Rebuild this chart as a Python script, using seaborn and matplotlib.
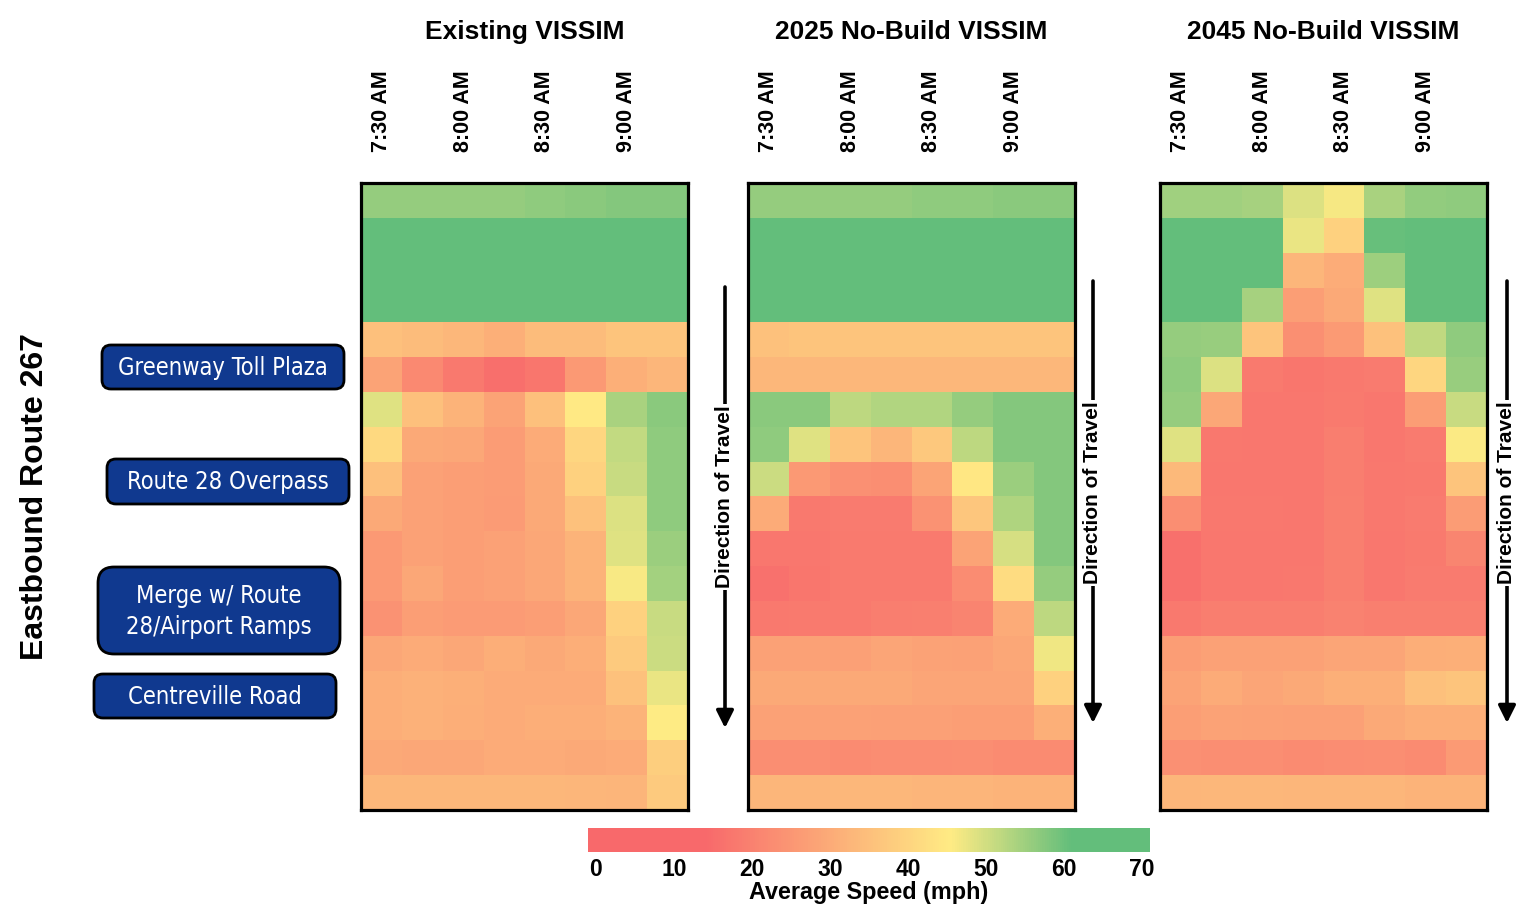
import numpy as np
import pandas as pd
import matplotlib
matplotlib.use("Agg")
import matplotlib.pyplot as plt
import seaborn as sns
from matplotlib.colors import LinearSegmentedColormap, Normalize
from matplotlib.patches import FancyBboxPatch
from matplotlib import font_manager

# ---- data -----------------------------------------------------------------
times = ["7:30 AM", "7:45 AM", "8:00 AM", "8:15 AM",
         "8:30 AM", "8:45 AM", "9:00 AM", "9:15 AM"]
segments = [f"S{i + 1:02d}" for i in range(18)]  # upstream (top) to downstream

existing = [
    [56, 56, 56, 56, 56.5, 57, 57.5, 57.5],
    [65, 65, 65, 65, 65, 65, 65, 65],
    [65, 65, 65, 65, 65, 65, 65, 65],
    [65, 65, 65, 65, 65, 65, 65, 65],
    [35, 34, 33, 31, 34, 34, 36, 36],
    [28, 22, 18, 15.5, 17, 25.5, 31, 32.5],
    [48.5, 35, 32, 28, 35, 45, 54, 57],
    [41, 29.5, 29, 26.5, 30, 40.5, 51.5, 56.5],
    [35, 27.5, 27, 26.5, 29.5, 39, 51, 56.5],
    [29.5, 27.5, 27, 26, 29.5, 35.5, 49, 56.5],
    [25.5, 27.5, 27, 27.5, 29, 32, 48.5, 55.5],
    [25.5, 29, 27, 27.5, 29, 32, 46, 54.5],
    [24, 27, 26, 26, 27, 29, 39, 51],
    [29, 30, 29, 30.5, 29.5, 30.5, 37.5, 50.5],
    [30.5, 31.5, 31, 30, 30, 30, 35.5, 47.5],
    [30.5, 31.5, 30.5, 30, 30.5, 30.5, 32, 45.5],
    [29.5, 29, 29, 30, 30, 29.5, 30, 38.5],
    [33, 33, 32.8, 32.8, 32.8, 32.6, 32.2, 37.5],
]

no_build_2025 = [
    [56, 56, 56, 56, 56.5, 56.5, 57, 57],
    [65, 65, 65, 65, 65, 65, 65, 65],
    [65, 65, 65, 65, 65, 65, 65, 65],
    [65, 65, 65, 65, 65, 65, 65, 65],
    [35.5, 36, 36, 36, 36, 36, 36, 36],
    [33, 33, 33, 33, 33, 33, 33, 33],
    [57, 57, 52, 53, 53, 56, 57.5, 57.5],
    [56.5, 48.5, 36, 32.5, 37, 52, 57.5, 57.5],
    [50.5, 25.5, 23.5, 23, 28.5, 44.5, 55.5, 57.5],
    [30, 18, 18.5, 18.5, 24, 36.5, 53.5, 57.5],
    [17.3, 17.3, 18.3, 18.3, 18.3, 28, 49.5, 57.5],
    [16, 17, 18.3, 18.3, 18.3, 22.5, 42, 56],
    [18, 18.3, 18.3, 19, 19.5, 20.5, 30, 52],
    [27.5, 27.5, 27.3, 28.8, 27.7, 27.5, 29, 47],
    [29.5, 29.5, 29.5, 29.5, 28.8, 28.8, 28.8, 39],
    [27.5, 27.5, 27.5, 27.3, 27.3, 27, 27, 31],
    [23, 23, 22.3, 22.7, 22.7, 23, 22.3, 22.3],
    [32.7, 32.7, 33, 33, 32.3, 32.3, 32, 32],
]

no_build_2045 = [
    [54.7, 54.7, 54.3, 49, 46.5, 54, 56.3, 56.6],
    [65, 64, 63, 47.5, 39, 60.5, 65, 65],
    [65, 65, 65, 32.5, 30.3, 55, 65, 65],
    [65, 65, 54.2, 27, 29.6, 48.5, 65, 65],
    [56, 55.7, 36, 23.4, 25.8, 35.3, 51.8, 56.6],
    [56.4, 49, 18.3, 17, 18, 18.5, 40.5, 55.8],
    [56, 29, 17.3, 17.3, 18.3, 17.3, 26.8, 51],
    [48.6, 17.7, 17.3, 17.3, 19, 17.3, 18.5, 45.7],
    [33.4, 17.3, 17.3, 17.3, 19, 17.7, 18, 36],
    [23, 17.7, 17.7, 17.3, 19.5, 17.7, 18.5, 26.5],
    [15.7, 17.3, 17.3, 17.5, 19.5, 17.5, 18.3, 20.7],
    [15.7, 17.3, 17.3, 17.8, 19.5, 17.5, 18.5, 18.5],
    [18, 19.2, 19.2, 19.2, 20.2, 19.5, 19.3, 19.5],
    [26.8, 27.5, 27.5, 27.5, 28.8, 28.8, 30.5, 31],
    [28, 30, 28.8, 29.6, 30.8, 30.8, 35, 36],
    [27, 27.7, 27.5, 27.3, 27.3, 29.6, 30.5, 30.5],
    [23.6, 23, 23, 22.3, 22.7, 23, 22.3, 25.8],
    [32.7, 33, 33, 32.5, 32.5, 32.5, 32, 32],
]

scenarios = ["Existing VISSIM", "2025 No-Build VISSIM", "2045 No-Build VISSIM"]
scenario_data = [existing, no_build_2025, no_build_2045]

landmarks = ["Greenway Toll Plaza", "Route 28 Overpass",
             "Merge w/ Route\n28/Airport Ramps", "Centreville Road"]
cbar_ticks = [0, 10, 20, 30, 40, 50, 60, 70]

# ---- style ----------------------------------------------------------------
sns.set_theme(style="white")
plt.rcParams["font.family"] = ["Liberation Sans", "DejaVu Sans"]

installed = {f.name for f in font_manager.fontManager.ttflist}
if "Liberation Sans Narrow" in installed:
    narrow = dict(family=["Liberation Sans Narrow", "DejaVu Sans"], fontsize=19)
else:
    narrow = dict(family=["DejaVu Sans"], fontstretch="condensed", fontsize=17)

VMIN, VMAX = -1, 71
def pos(v):
    return (v - VMIN) / (VMAX - VMIN)

speed_cmap = LinearSegmentedColormap.from_list(
    "speed",
    [(0.0, "#F8696B"), (pos(14), "#F8696B"), (pos(45.5), "#FFEB84"),
     (pos(61), "#63BE7B"), (1.0, "#63BE7B")],
)

W, H = 1532, 906
fig = plt.figure(figsize=(W / 100, H / 100), dpi=100)

panel_left = [361, 748, 1160]
panel_w = 327
top_px, bot_px = 183, 810

for name, rows, lx in zip(scenarios, scenario_data, panel_left):
    ax = fig.add_axes([lx / W, 1 - bot_px / H, panel_w / W, (bot_px - top_px) / H])
    df = pd.DataFrame(rows, index=segments, columns=times)
    sns.heatmap(df, ax=ax, cmap=speed_cmap, vmin=VMIN, vmax=VMAX, cbar=False,
                linewidths=0)
    ax.xaxis.tick_top()
    ax.set_xticks(np.arange(0, len(times), 2) + 0.5)
    ax.set_xticklabels(times[::2], rotation=90, fontsize=15.5, fontweight="bold",
                       color="black")
    ax.tick_params(axis="x", length=0, pad=22, top=True, bottom=False)
    ax.set_yticks([])
    ax.set_xlabel("")
    ax.set_ylabel("")
    for sp in ax.spines.values():
        sp.set_visible(True)
        sp.set_color("black")
        sp.set_linewidth(2.3)
    ax.text(0.5, (bot_px - 32) / (bot_px - top_px), name, transform=ax.transAxes,
            ha="center", va="center", fontsize=19, fontweight="bold",
            color="black")

# colour bar
cax = fig.add_axes([588 / W, 1 - 852 / H, 562 / W, 24 / H])
sm = plt.cm.ScalarMappable(norm=Normalize(VMIN, VMAX), cmap=speed_cmap)
cbar = fig.colorbar(sm, cax=cax, orientation="horizontal", ticks=cbar_ticks)
cbar.outline.set_visible(False)
cbar.ax.tick_params(length=0, pad=4)
for t in cbar.ax.get_xticklabels():
    t.set_fontsize(16.5)
    t.set_fontweight("bold")
    t.set_color("black")
cbar.ax.set_xlabel("Average Speed (mph)", fontsize=16.8, fontweight="bold",
                   color="black", labelpad=0)

# annotation layer in pixel units
ov = fig.add_axes([0, 0, 1, 1], zorder=5)
ov.set_xlim(0, W)
ov.set_ylim(H, 0)
ov.axis("off")
ov.patch.set_alpha(0)

ov.text(35, 497, "Eastbound Route 267", rotation=90, ha="center", va="center",
        fontsize=23, fontweight="bold", color="black")

boxes = [(102, 345, 242, 44, 9), (107, 459, 242, 45, 9),
         (98, 567, 242, 87, 16), (94, 674, 242, 44, 9)]
for label, (bx, by, bw, bh, r) in zip(landmarks, boxes):
    ov.add_patch(FancyBboxPatch((bx + r, by + r), bw - 2 * r, bh - 2 * r,
                                boxstyle=f"round,pad={r}", facecolor="#10398F",
                                edgecolor="black", linewidth=2))
    ov.text(bx + bw / 2, by + bh / 2 + 1, label, ha="center", va="center",
            color="white", linespacing=1.35, **narrow)

arrows = [(725, 287, 728, 497), (1093, 281, 723, 493), (1507, 281, 723, 493)]
for ax_x, y0, y1, ty in arrows:
    ov.annotate("", xy=(ax_x, y1), xytext=(ax_x, y0),
                arrowprops=dict(arrowstyle="-|>", lw=2.6, color="black",
                                mutation_scale=26, shrinkA=0, shrinkB=0))
    ov.text(ax_x, ty, "Direction of Travel", rotation=90, ha="center",
            va="center", fontsize=15, fontweight="bold", color="black",
            bbox=dict(facecolor="white", edgecolor="none", pad=1.5))

fig.savefig("out.png", dpi=100)
